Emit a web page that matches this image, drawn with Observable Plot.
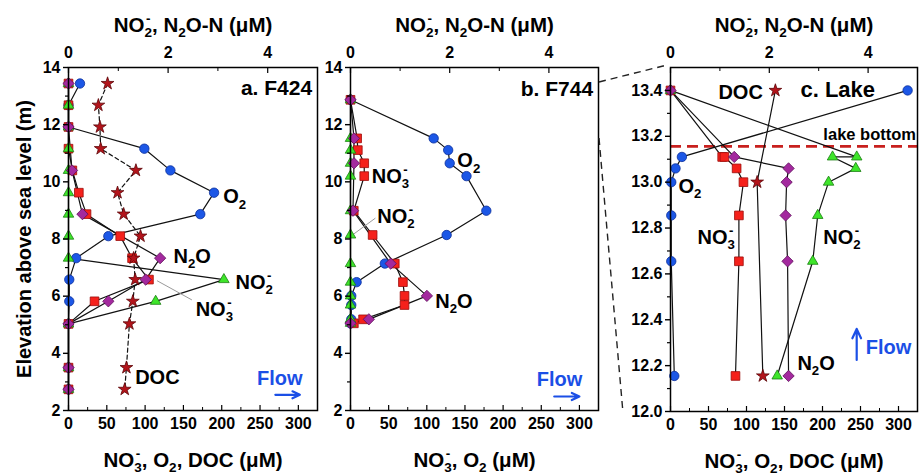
<!DOCTYPE html>
<html><head><meta charset="utf-8">
<script src="https://cdn.jsdelivr.net/npm/d3@7"></script>
<script src="https://cdn.jsdelivr.net/npm/@observablehq/plot@0.6"></script>
<style>
html,body{margin:0;padding:0;background:#fff;}
#wrap{position:relative;width:922px;height:476px;overflow:hidden;font-family:"Liberation Sans",Arial,sans-serif;}
#wrap > svg{position:absolute;top:0;}
#ylab{position:absolute;left:24px;top:239px;transform:translate(-50%,-50%) rotate(-90deg);white-space:nowrap;font:bold 20px "Liberation Sans",Arial,sans-serif;color:#000;}
</style></head><body><div id="wrap"><div id="ylab">Elevation above sea level (m)</div></div>
<script>
// ---------- data ----------
// bottom axis: NO3-, O2, DOC (µM); top axis: NO2-, N2O-N (µM)
const bottomTicks = [0, 50, 100, 150, 200, 250, 300];
const bottomMinor = [25, 75, 125, 175, 225, 275];
const topTicks = [0, 2, 4];
const topMinor = [1, 3];
const X_MAX = 325, TOP_MAX = 5;

// Panel a. F424
const elevA = [13.44, 12.68, 11.92, 11.16, 10.40, 9.62, 8.87, 8.10, 7.33, 6.58, 5.82, 5.03, 3.50, 2.74];
const o2A   = [15, 0, 0, 99, 133, 190, 172, 52, 10, 1, 1, 0, 0, 0];
const no3A  = [0, 0, 0, 0, 5, 13.5, 23.5, 67.5, 83, 105, 34, 0, 0, 0];
const no2A  = [0, 0, 0, 0, 0, 0, 0, 0, 0, 3.12, 1.75, 0, 0, 0];
const n2oA  = [0, null, 0, null, 0.07, null, 0.28, null, 1.84, 1.55, 0.8, 0, 0, 0];
const docA  = [51, 39, 41, 42, 88, 64, 72, 94, 85, 87, 84, 79.5, 75.6, 73.4];

// Panel b. F744
const elevB = [12.87, 11.52, 11.11, 10.65, 10.20, 8.99, 8.14, 7.14, 6.49, 6.01, 5.69, 5.19, 5.05];
const o2B   = [0, 109, 128, 130, 152, 178, 126, 45, 8, 1, 1, 1, 0];
const no3B  = [0, 8.7, 9.6, 18, 18, 4.3, 29, 58, 68.7, 70.8, 70.8, 16.5, 4.4];
const no2B  = [0, 0, 0, 0, 0, 0, 0, 0, 0, 0, 0, 0, 0];
const n2oB  = [0, 0.07, null, 0.07, null, 0.05, null, 0.81, null, 1.54, null, 0.37, 0];

// Panel c. Lake
const elevC = [13.40, 13.11, 13.11, 13.06, 13.00, 12.855, 12.655, 12.155];
const o2C   = [312, 15, null, 6.6, 1, 1, 1, 5];
const no3C  = [0, 68, 71, 87, 96, 90, 90, 85.5];
const no2C  = [0, 3.77, 3.28, 3.75, 3.2, 2.98, 2.88, 2.16];
const n2oC  = [0, 1.29, null, 2.39, 2.35, 2.33, 2.37, 2.39];
const docC  = [138, null, null, null, 114, null, null, 121.5];
const lakeBottom = 13.156;

// annotation labels (data units; "_" = subscript, "^" = superscript)
const labelsA = [
  {t: "a. F424", x: 318, y: 13.29, anchor: "end", size: 21},
  {t: "O_2", x: 202, y: 9.47},
  {t: "N_2O", x: 137, y: 7.38},
  {t: "NO_2^-", x: 218, y: 6.47},
  {t: "NO_3^-", x: 166, y: 5.52},
  {t: "DOC", x: 87, y: 3.15},
  {t: "Flow", x: 246, y: 3.11, color: "#1b4fe6"}
];
const labelsB = [
  {t: "b. F744", x: 318, y: 13.25, anchor: "end", size: 21},
  {t: "O_2", x: 140, y: 10.73},
  {t: "NO_3^-", x: 28, y: 10.2},
  {t: "NO_2^-", x: 35, y: 8.8},
  {t: "N_2O", x: 111, y: 5.81},
  {t: "Flow", x: 244, y: 3.08, color: "#1b4fe6"}
];
const labelsC = [
  {t: "c. Lake", x: 171, y: 13.40, size: 22},
  {t: "DOC", x: 63, y: 13.39},
  {t: "O_2", x: 10.5, y: 12.98},
  {t: "NO_3^-", x: 35.5, y: 12.76},
  {t: "NO_2^-", x: 201, y: 12.76},
  {t: "N_2O", x: 167, y: 12.21},
  {t: "Flow", x: 257, y: 12.28, color: "#1b4fe6"},
  {t: "lake bottom", x: 323, y: 13.205, anchor: "end", size: 16.5}
];
const leadersA = [{x1: 115.6, y1: 6.54, x2: 161, y2: 5.87}];
const leadersB = [{x1: 32.6, y1: 8.73, x2: 2.5, y2: 8.14}];
const arrowsA = [{x1: 270, y1: 2.55, x2: 302, y2: 2.55}];
const arrowsB = [{x1: 267, y1: 2.49, x2: 300, y2: 2.49}];
const arrowsC = [{x1: 245, y1: 12.225, x2: 245, y2: 12.36}];

// ---------- styling ----------
const K = X_MAX / TOP_MAX;
const FONT = "'Liberation Sans', Arial, sans-serif";
const SER = {
  o2:  {symbol: "circle",   r: 4.7, fill: "#1c57e6", stroke: "#0b2f9a", top: false},
  no3: {symbol: "square",   r: 4.9, fill: "#f5211b", stroke: "#9c0d0a", top: false},
  doc: {symbol: "star",     r: 4.0, fill: "#b3141b", stroke: "#5c0508", top: false},
  no2: {symbol: "triangle", r: 3.9, fill: "#3ee52a", stroke: "#1b7d12", top: true},
  n2o: {symbol: "diamond2", r: 5.1, fill: "#a3299e", stroke: "#5e0f5a", top: true}
};
const ORDER = ["o2", "no3", "doc", "no2", "n2o"];

function rows(elev, vals, top) {
  return elev.map((e, i) => ({y: e, x: vals[i] == null ? null : (top ? vals[i] * K : vals[i])}))
             .filter(d => d.x != null);
}

function makePanel(cfg) {
  const marks = [];
  if (cfg.lake != null) marks.push(Plot.ruleY([cfg.lake], {stroke: "#c8201e", strokeWidth: 2.6, strokeDasharray: "11,6"}));
  for (const k of ORDER) {
    if (!cfg.series[k]) continue;
    marks.push(Plot.line(rows(cfg.elev, cfg.series[k], SER[k].top), {
      x: "x", y: "y", stroke: "#111", strokeWidth: 1.2,
      strokeDasharray: (k === "doc" && cfg.docDash) ? "4,3" : null
    }));
  }
  for (const l of (cfg.leaders || [])) marks.push(Plot.link([l], {x1: "x1", y1: "y1", x2: "x2", y2: "y2", stroke: "#9a9a9a", strokeWidth: 1}));
  for (const k of ORDER) {
    if (!cfg.series[k]) continue;
    const s = SER[k];
    marks.push(Plot.dot(rows(cfg.elev, cfg.series[k], s.top), {
      x: "x", y: "y", symbol: s.symbol, r: s.r, fill: s.fill, stroke: s.stroke, strokeWidth: 0.8
    }));
  }
  for (const a of (cfg.arrows || [])) marks.push(Plot.arrow([a], {x1: "x1", y1: "y1", x2: "x2", y2: "y2", stroke: "#1b4fe6", strokeWidth: 2.2, headLength: 7, headAngle: 50}));
  for (const l of cfg.labels) {
    marks.push(Plot.text([l], {x: "x", y: "y", text: "t", textAnchor: l.anchor || "start",
      fontSize: l.size || 20, fontWeight: "bold", fill: l.color || "#000"}));
  }
  marks.push(
    Plot.frame({stroke: "#000", strokeWidth: 1.5}),
    Plot.axisY({anchor: "left", ticks: cfg.yTicks, tickFormat: cfg.yFormat, tickSize: 5, tickPadding: 3, label: null, fontSize: 16, fontWeight: "bold", strokeWidth: 1.4}),
    Plot.axisY({anchor: "left", ticks: cfg.yMinor, tickFormat: () => "", tickSize: 3, label: null, strokeWidth: 1.2}),
    Plot.axisX({anchor: "bottom", ticks: bottomTicks, tickFormat: d => String(d), tickSize: -5, tickPadding: 12, label: null, fontSize: 16, fontWeight: "bold", strokeWidth: 1.2}),
    Plot.axisX({anchor: "bottom", ticks: bottomMinor, tickFormat: () => "", tickSize: -3, label: null, strokeWidth: 1}),
    Plot.axisX({anchor: "top", ticks: topTicks.map(v => v * K), tickFormat: () => "", tickSize: -5, label: null, strokeWidth: 1.2}),
    Plot.axisX({anchor: "top", ticks: topMinor.map(v => v * K), tickFormat: () => "", tickSize: -3, label: null, strokeWidth: 1}),
    Plot.text(topTicks, {x: d => d * K, text: d => String(d), frameAnchor: "top", lineAnchor: "middle", dy: -15, fontSize: 16, fontWeight: "bold", fill: "#000"}),
    Plot.text([cfg.topTitle], {frameAnchor: "top", lineAnchor: "middle", dy: -42, fontSize: 20.5, fontWeight: "bold", fill: "#000"}),
    Plot.text([cfg.bottomTitle], {frameAnchor: "bottom", lineAnchor: "middle", dy: 50, fontSize: 20.5, fontWeight: "bold", fill: "#000"})
  );
  const svg = Plot.plot({
    width: cfg.width, height: 476,
    marginLeft: cfg.ml, marginRight: cfg.mr, marginTop: cfg.mt, marginBottom: cfg.mb,
    x: {domain: [0, X_MAX], label: null},
    y: {domain: cfg.yDomain, label: null},
    style: {fontFamily: FONT, fontSize: "16px", fontWeight: "bold", color: "#000", background: "transparent", overflow: "visible"},
    marks
  });
  svg.style.left = cfg.left + "px";
  return svg;
}

function richify(svg) {
  const NS = "http://www.w3.org/2000/svg";
  svg.querySelectorAll("text").forEach(t => {
    const s = t.textContent;
    if (!/[_^]/.test(s)) return;
    const fs = parseFloat(getComputedStyle(t).fontSize) || 16;
    while (t.firstChild) t.removeChild(t.firstChild);
    const small = 0.66, sm = small * fs;
    const subDy = 0.26 * fs, supDy = 0.44 * fs;
    const add = (str, dx, dy, size) => {
      const ts = document.createElementNS(NS, "tspan");
      ts.textContent = str;
      if (dx) ts.setAttribute("dx", dx);
      if (dy) ts.setAttribute("dy", dy);
      if (size) ts.setAttribute("font-size", size);
      t.appendChild(ts);
    };
    const re = /_(.)\^(.)|_(.)|\^(.)|[^_^]+/g;
    let m, pDy = 0, pDx = 0;
    while ((m = re.exec(s))) {
      if (m[1] !== undefined) {
        const subW = 0.556 * sm, supW = 0.333 * sm;
        add(m[1], pDx, pDy + subDy, sm);
        add(m[2], -(subW + supW) / 2, -(subDy + supDy), sm);
        pDy = supDy; pDx = (subW - supW) / 2;
      } else if (m[3] !== undefined) {
        add(m[3], pDx, pDy + subDy, sm); pDy = -subDy; pDx = 0;
      } else if (m[4] !== undefined) {
        add(m[4], pDx, pDy - supDy, sm); pDy = supDy; pDx = 0;
      } else {
        add(m[0], pDx, pDy, null); pDy = 0; pDx = 0;
      }
    }
  });
}

const wrap = document.getElementById("wrap");
const svgs = [
  makePanel({left: 0, width: 330, ml: 68, mr: 13, mt: 67, mb: 66,
    elev: elevA, series: {o2: o2A, no3: no3A, doc: docA, no2: no2A, n2o: n2oA}, docDash: true,
    yDomain: [2, 14], yTicks: [2, 4, 6, 8, 10, 12, 14], yMinor: [3, 5, 7, 9, 11, 13], yFormat: d => String(d),
    labels: labelsA, leaders: leadersA, arrows: arrowsA,
    topTitle: "NO_2^-, N_2O-N (μM)", bottomTitle: "NO_3^-, O_2, DOC (μM)"}),
  makePanel({left: 330, width: 280, ml: 20, mr: 12, mt: 67, mb: 66,
    elev: elevB, series: {o2: o2B, no3: no3B, no2: no2B, n2o: n2oB},
    yDomain: [2, 14], yTicks: [2, 4, 6, 8, 10, 12, 14], yMinor: [3, 5, 7, 9, 11, 13], yFormat: d => String(d),
    labels: labelsB, leaders: leadersB, arrows: arrowsB,
    topTitle: "NO_2^-, N_2O-N (μM)", bottomTitle: "NO_3^-, O_2 (μM)"}),
  makePanel({left: 610, width: 312, ml: 60, mr: 5, mt: 67, mb: 65,
    elev: elevC, series: {o2: o2C, no3: no3C, doc: docC, no2: no2C, n2o: n2oC}, lake: lakeBottom,
    yDomain: [12, 13.5], yTicks: [12.0, 12.2, 12.4, 12.6, 12.8, 13.0, 13.2, 13.4], yMinor: [12.1, 12.3, 12.5, 12.7, 12.9, 13.1, 13.3], yFormat: d3.format(".1f"),
    labels: labelsC, arrows: arrowsC,
    topTitle: "NO_2^-, N_2O-N (μM)", bottomTitle: "NO_3^-, O_2, DOC (μM)"})
];
svgs.forEach(s => wrap.appendChild(s));
svgs.forEach(richify);

// decorative zoom connectors between panel b and panel c
const NS = "http://www.w3.org/2000/svg";
const ov = document.createElementNS(NS, "svg");
ov.setAttribute("width", 922); ov.setAttribute("height", 476);
ov.style.left = "0px"; ov.style.pointerEvents = "none";
const p = document.createElementNS(NS, "path");
p.setAttribute("d", "M599,82 L663,66 L669,66 M599,138 L623,413");
p.setAttribute("fill", "none"); p.setAttribute("stroke", "#222");
p.setAttribute("stroke-width", "1.4"); p.setAttribute("stroke-dasharray", "7,5");
ov.appendChild(p);
wrap.appendChild(ov);
</script>
</body></html>
